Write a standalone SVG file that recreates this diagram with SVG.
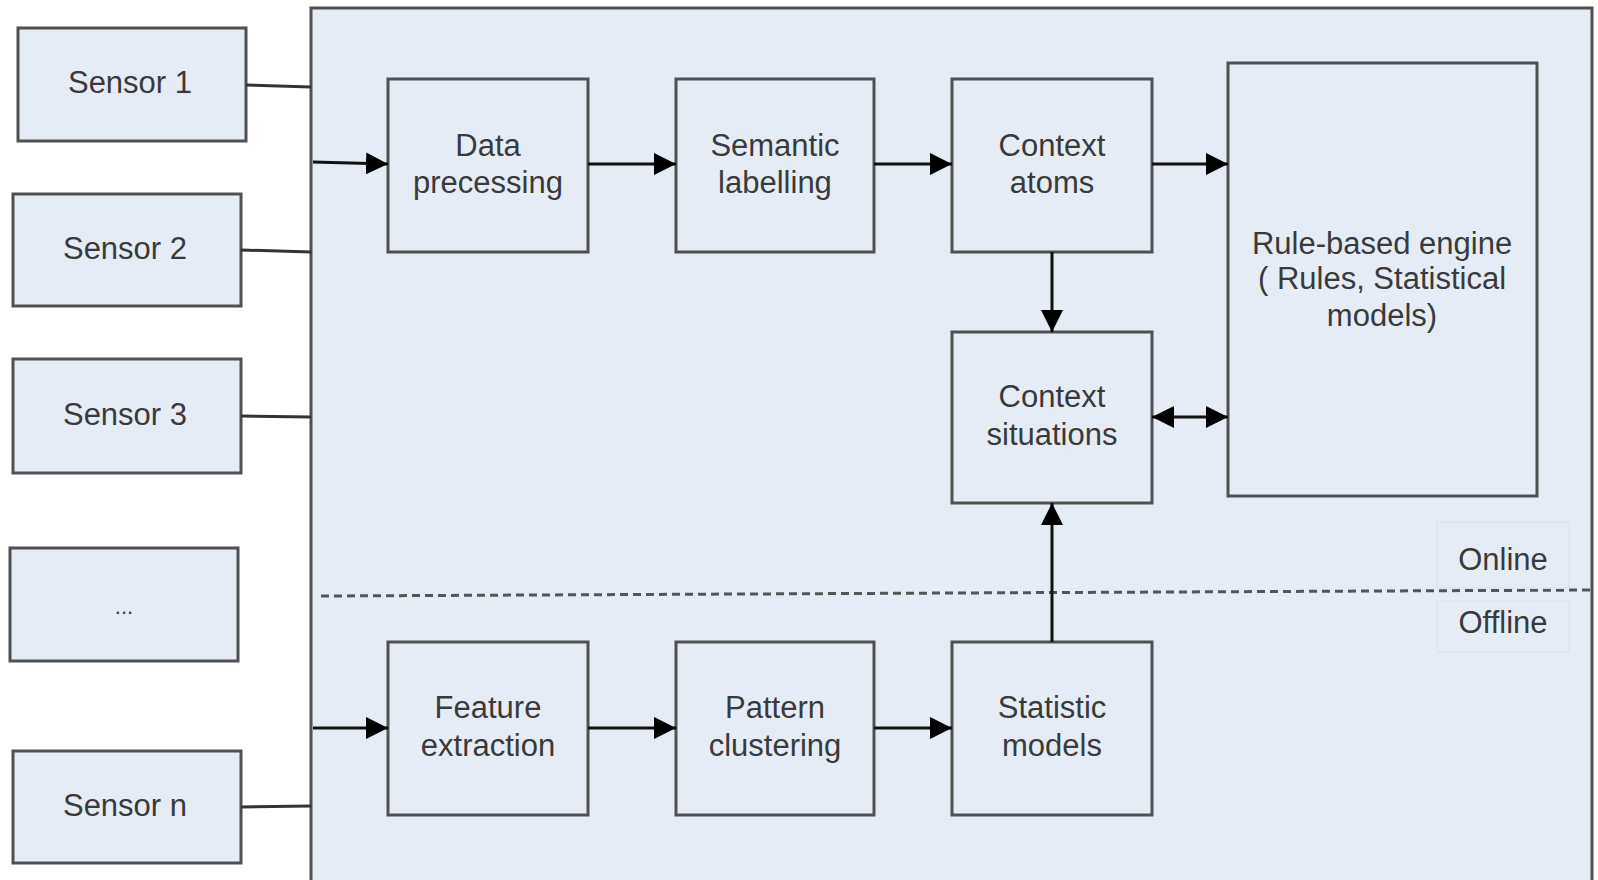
<svg xmlns="http://www.w3.org/2000/svg" width="1598" height="880" viewBox="0 0 1598 880">
<style>
.box{fill:#e5ecf6;stroke:#505050;stroke-width:3}
.lbl{font-family:"Liberation Sans",Arial,sans-serif;font-size:31px;fill:#3a3a3a;text-anchor:middle}
.conn{stroke:#111;stroke-width:3;fill:none}
.tap{stroke:#333;stroke-width:3;fill:none}
.faint{fill:none;stroke:#dde3ec;stroke-width:1.5}
</style>
<defs>
<marker id="ah" markerUnits="userSpaceOnUse" markerWidth="24" markerHeight="24" refX="22" refY="11" orient="auto-start-reverse">
<path d="M0,0 L22,11 L0,22 z" fill="#000"/>
</marker>
</defs>
<rect width="1598" height="880" fill="#fff"/>

<g id="system">
<rect class="box" x="311" y="8" width="1281" height="890"/>
<line x1="321" y1="596" x2="1592" y2="590" stroke="#555" stroke-width="3" stroke-dasharray="8,5"/>
</g>

<g id="sensor1"><rect class="box" x="18" y="28" width="228" height="113"/><text class="lbl" x="130" y="93">Sensor 1</text></g>
<g id="sensor2"><rect class="box" x="13" y="194" width="228" height="112"/><text class="lbl" x="125" y="259">Sensor 2</text></g>
<g id="sensor3"><rect class="box" x="13" y="359" width="228" height="114"/><text class="lbl" x="125" y="425">Sensor 3</text></g>
<g id="sensordots"><rect class="box" x="10" y="548" width="228" height="113"/><text class="lbl" x="124" y="614" style="font-size:22px">...</text></g>
<g id="sensorn"><rect class="box" x="13" y="751" width="228" height="112"/><text class="lbl" x="125" y="816">Sensor n</text></g>

<g id="data"><rect class="box" x="388" y="79" width="200" height="173"/><text class="lbl" x="488" y="156">Data</text><text class="lbl" x="488" y="193">precessing</text></g>
<g id="semantic"><rect class="box" x="676" y="79" width="198" height="173"/><text class="lbl" x="775" y="156">Semantic</text><text class="lbl" x="775" y="193">labelling</text></g>
<g id="atoms"><rect class="box" x="952" y="79" width="200" height="173"/><text class="lbl" x="1052" y="156">Context</text><text class="lbl" x="1052" y="193">atoms</text></g>
<g id="engine"><rect class="box" x="1228" y="63" width="309" height="433"/><text class="lbl" x="1382" y="254">Rule-based engine</text><text class="lbl" x="1382" y="289">( Rules, Statistical</text><text class="lbl" x="1382" y="326">models)</text></g>
<g id="situations"><rect class="box" x="952" y="332" width="200" height="171"/><text class="lbl" x="1052" y="407">Context</text><text class="lbl" x="1052" y="445">situations</text></g>
<g id="feature"><rect class="box" x="388" y="642" width="200" height="173"/><text class="lbl" x="488" y="718">Feature</text><text class="lbl" x="488" y="756">extraction</text></g>
<g id="pattern"><rect class="box" x="676" y="642" width="198" height="173"/><text class="lbl" x="775" y="718">Pattern</text><text class="lbl" x="775" y="756">clustering</text></g>
<g id="statistic"><rect class="box" x="952" y="642" width="200" height="173"/><text class="lbl" x="1052" y="718">Statistic</text><text class="lbl" x="1052" y="756">models</text></g>

<g id="online"><rect class="faint" x="1437" y="522" width="132" height="66"/><text class="lbl" x="1503" y="570">Online</text></g>
<g id="offline"><rect class="faint" x="1437" y="601" width="132" height="51"/><text class="lbl" x="1503" y="633">Offline</text></g>

<g id="connectors">
<line class="tap" x1="246" y1="85" x2="311" y2="87"/>
<line class="tap" x1="241" y1="250" x2="311" y2="252"/>
<line class="tap" x1="241" y1="416" x2="311" y2="417"/>
<line class="tap" x1="241" y1="807" x2="311" y2="806"/>
<line class="conn" x1="313" y1="162" x2="388" y2="164" marker-end="url(#ah)"/>
<line class="conn" x1="588" y1="164" x2="676" y2="164" marker-end="url(#ah)"/>
<line class="conn" x1="874" y1="164" x2="952" y2="164" marker-end="url(#ah)"/>
<line class="conn" x1="1152" y1="164" x2="1228" y2="164" marker-end="url(#ah)"/>
<line class="conn" x1="1052" y1="252" x2="1052" y2="332" marker-end="url(#ah)"/>
<line class="conn" x1="1152" y1="417" x2="1228" y2="417" marker-start="url(#ah)" marker-end="url(#ah)"/>
<line class="conn" x1="1052" y1="642" x2="1052" y2="503" marker-end="url(#ah)"/>
<line class="conn" x1="313" y1="728" x2="388" y2="728" marker-end="url(#ah)"/>
<line class="conn" x1="588" y1="728" x2="676" y2="728" marker-end="url(#ah)"/>
<line class="conn" x1="874" y1="728" x2="952" y2="728" marker-end="url(#ah)"/>
</g>
</svg>
